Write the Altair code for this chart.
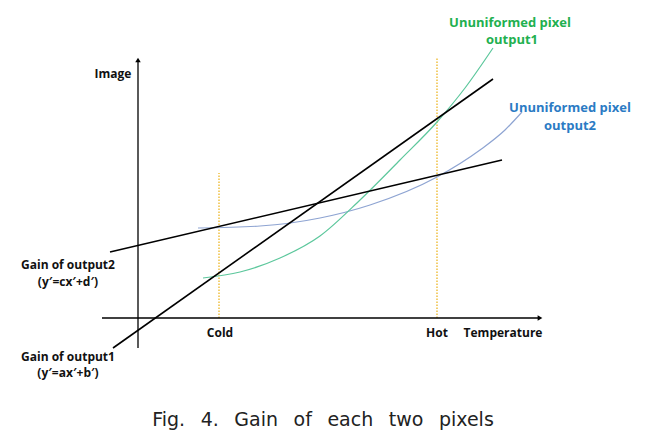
import altair as alt
import pandas as pd

# Schematic coordinates (Temperature on x, Image on y), origin at axis crossing
axis_x1 = [-36, 0]
axis_x2 = [402, 0]
axis_y1 = [0, -30]
axis_y2 = [0, 258]

arrow_x = [402, 0]
arrow_y = [0, 258]
arrow_shape = ["triangle-right", "triangle-up"]

ref_x = [81, 299]          # Cold, Hot
ref_top = [145, 261]

gain1_x = [-25, 355]
gain1_y = [-30, 239]
gain2_x = [-28, 364]
gain2_y = [66, 158]

out2_x = [60, 122, 182, 232, 299, 342, 367, 384]
out2_y = [90, 92, 100, 113, 141, 168, 188, 206]
out1_x = [65, 102, 142, 182, 222, 262, 299, 327, 355]
out1_y = [40, 46, 60, 82, 118, 158, 196, 230, 270]

black_labels = ["Image", "Cold", "Hot", "Temperature",
                "Gain of output2", "(y′=cx′+d′)", "Gain of output1", "(y′=ax′+b′)"]
black_lx = [-25, 82, 299, 365, -70, -70, -70, -70]
black_ly = [244, -15, -15, -15, 53, 36, -39, -55]

green_labels = ["Ununiformed pixel", "output1"]
green_lx = [372, 374]
green_ly = [295, 278]
blue_labels = ["Ununiformed pixel", "output2"]
blue_lx = [432, 432]
blue_ly = [210, 192]

caption = "Fig.\u2002 4.\u2002 Gain\u2002 of\u2002 each\u2002 two\u2002 pixels"
caption_x = [185]
caption_y = [-102]

xs = alt.Scale(domain=[-130, 502], nice=False, zero=False)
ys = alt.Scale(domain=[-119, 310], nice=False, zero=False)

def X(f="x"):
    return alt.X(f"{f}:Q", scale=xs, axis=None)

def Y(f="y"):
    return alt.Y(f"{f}:Q", scale=ys, axis=None)

axes_df = pd.DataFrame({"x": [axis_x1[0], axis_y1[0]], "y": [axis_x1[1], axis_y1[1]],
                        "x2": [axis_x2[0], axis_y2[0]], "y2": [axis_x2[1], axis_y2[1]]})
axes = alt.Chart(axes_df).mark_rule(color="black", strokeWidth=1.3).encode(
    x=X(), y=Y(), x2="x2:Q", y2="y2:Q")

arrows = alt.Chart(pd.DataFrame({"x": arrow_x, "y": arrow_y, "s": arrow_shape})).mark_point(
    filled=True, color="black", size=30, opacity=1).encode(
    x=X(), y=Y(), shape=alt.Shape("s:N", scale=None, legend=None))

ref_df = pd.DataFrame({"x": ref_x, "y": [0, 0], "y2": ref_top})
refs = alt.Chart(ref_df).mark_rule(color="#f0c040", strokeWidth=1.5, strokeDash=[1.5, 1.5]).encode(
    x=X(), y=Y(), y2="y2:Q")

g_df = pd.DataFrame({"x": [gain1_x[0], gain2_x[0]], "y": [gain1_y[0], gain2_y[0]],
                     "x2": [gain1_x[1], gain2_x[1]], "y2": [gain1_y[1], gain2_y[1]]})
gains = alt.Chart(g_df).mark_rule(color="black", strokeWidth=1.6).encode(
    x=X(), y=Y(), x2="x2:Q", y2="y2:Q")

c2 = alt.Chart(pd.DataFrame({"x": out2_x, "y": out2_y})).mark_line(
    color="#8ea4d2", strokeWidth=1.2, interpolate="monotone").encode(x=X(), y=Y(), order="x:Q")
c1 = alt.Chart(pd.DataFrame({"x": out1_x, "y": out1_y})).mark_line(
    color="#5cc79c", strokeWidth=1.2, interpolate="monotone").encode(x=X(), y=Y(), order="x:Q")

font = "Open Sans"
t_black = alt.Chart(pd.DataFrame({"x": black_lx, "y": black_ly, "t": black_labels})).mark_text(
    font=font, fontSize=12, fontWeight="bold", color="#111111", align="center", baseline="middle").encode(
    x=X(), y=Y(), text="t:N")
t_green = alt.Chart(pd.DataFrame({"x": green_lx, "y": green_ly, "t": green_labels})).mark_text(
    font=font, fontSize=13, fontWeight="bold", color="#22b04f", align="center", baseline="middle").encode(
    x=X(), y=Y(), text="t:N")
t_blue = alt.Chart(pd.DataFrame({"x": blue_lx, "y": blue_ly, "t": blue_labels})).mark_text(
    font=font, fontSize=13, fontWeight="bold", color="#2b7bc4", align="center", baseline="middle").encode(
    x=X(), y=Y(), text="t:N")
t_cap = alt.Chart(pd.DataFrame({"x": caption_x, "y": caption_y, "t": [caption]})).mark_text(
    font="DejaVu Sans", fontSize=19, color="#222222", align="center", baseline="middle").encode(
    x=X(), y=Y(), text="t:N")

chart = alt.layer(refs, c2, c1, gains, axes, arrows, t_black, t_green, t_blue, t_cap).properties(
    width=632, height=429, autosize=alt.AutoSizeParams(type="none"), padding=0,
    background="white").configure_view(stroke=None)

chart.save("out.html", embed_options={"renderer": "svg", "actions": False})
